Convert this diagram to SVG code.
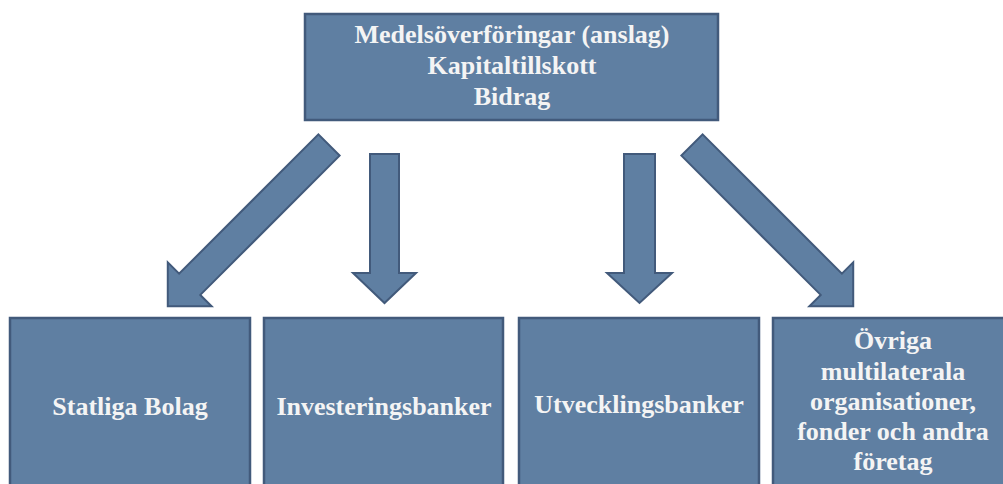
<svg xmlns="http://www.w3.org/2000/svg" width="1003" height="484" viewBox="0 0 1003 484">
<style>
.box{fill:#5F7FA2;stroke:#425A7B;stroke-width:2.5}
.arr{fill:#5F7FA2;stroke:#425A7B;stroke-width:2;stroke-linejoin:miter}
.t{font-family:"Liberation Serif","Times New Roman",serif;font-weight:bold;font-size:26px;fill:#F4F4F4;text-anchor:middle}
</style>
<defs>
<path id="a" d="M0,-15 L197,-15 L197,-31 L228,0 L197,31 L197,15 L0,15 Z"/>
</defs>
<rect width="1003" height="484" fill="#FFFFFF"/>
<g id="connectors">
<use href="#a" class="arr" transform="translate(329,145) rotate(135)"/>
<path class="arr" d="M370,154 L399,154 L399,273 L416,273 L384.5,303 L353,273 L370,273 Z"/>
<path class="arr" d="M624,154 L655,154 L655,273 L672,273 L639.5,303 L607,273 L624,273 Z"/>
<use href="#a" class="arr" transform="translate(692,145) rotate(45)"/>
</g>
<g id="top">
<rect class="box" x="305" y="14" width="413" height="106"/>
<text class="t" x="512" y="43">Medelsöverföringar (anslag)</text>
<text class="t" x="512" y="74">Kapitaltillskott</text>
<text class="t" x="512" y="105">Bidrag</text>
</g>
<g id="statliga">
<rect class="box" x="10" y="318" width="240" height="180"/>
<text class="t" x="130" y="415">Statliga Bolag</text>
</g>
<g id="investering">
<rect class="box" x="264" y="318" width="239" height="180"/>
<text class="t" x="384" y="415">Investeringsbanker</text>
</g>
<g id="utveckling">
<rect class="box" x="519" y="318" width="240" height="180"/>
<text class="t" x="639" y="413">Utvecklingsbanker</text>
</g>
<g id="ovriga">
<rect class="box" x="773" y="318" width="240" height="180"/>
<text class="t" x="893" y="349">Övriga</text>
<text class="t" x="893" y="380">multilaterala</text>
<text class="t" x="893" y="410">organisationer,</text>
<text class="t" x="893" y="440">fonder och andra</text>
<text class="t" x="893" y="470">företag</text>
</g>
</svg>
